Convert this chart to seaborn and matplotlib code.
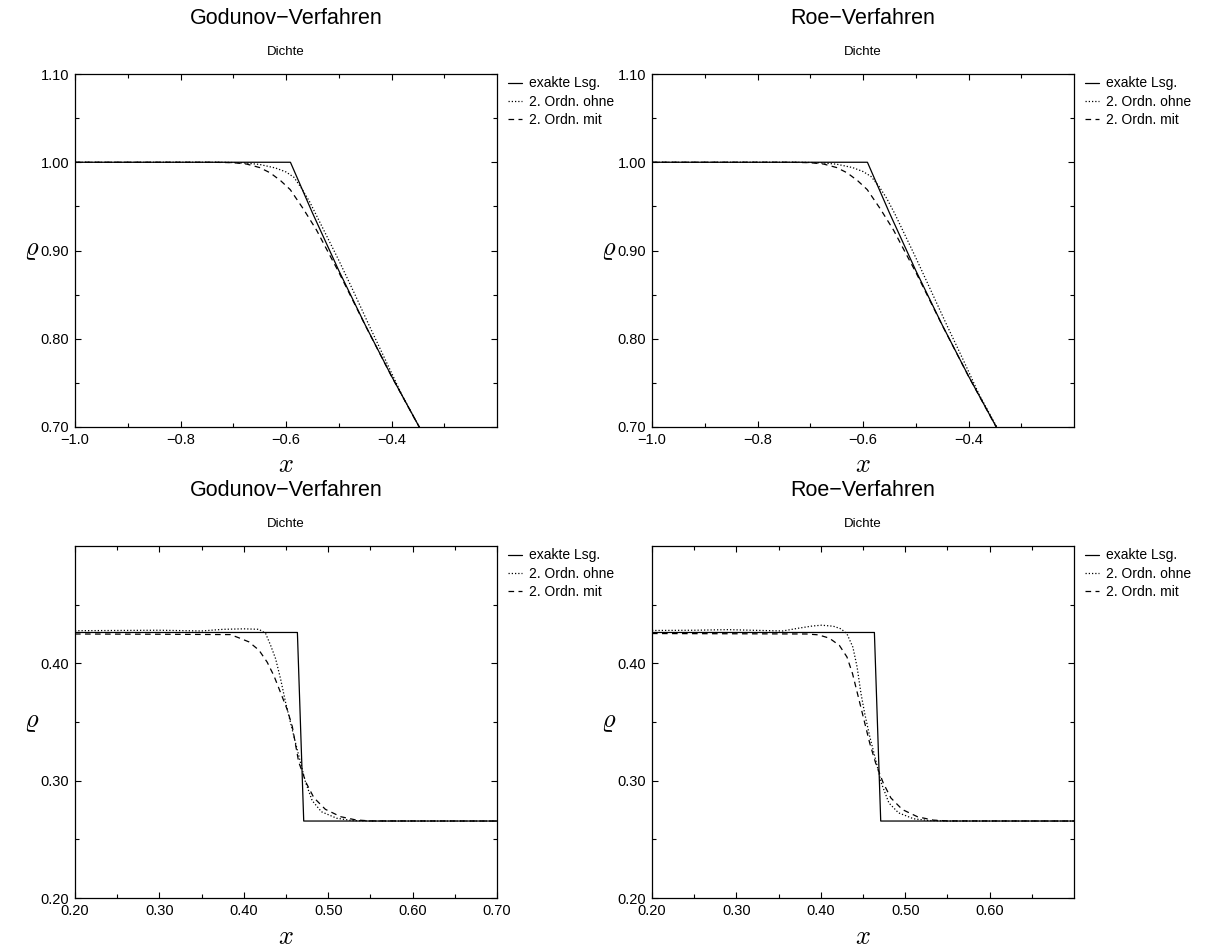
import matplotlib
matplotlib.use("Agg")
import matplotlib.pyplot as plt
from matplotlib.ticker import FixedLocator, FuncFormatter
import seaborn as sns

# ---- data: density profiles (shock tube), rarefaction region ----
top_x_exact = [-1.0, -0.5916, -0.55, -0.50, -0.45, -0.40, -0.35, -0.30]
top_rho_exact = [1.0, 1.0, 0.9428, 0.8774, 0.8158, 0.7577, 0.7029, 0.6514]

top_x_ohne = [-1.0, -0.72, -0.68, -0.65, -0.62, -0.60, -0.585, -0.57, -0.555,
              -0.54, -0.52, -0.50, -0.47, -0.44, -0.41, -0.38, -0.35, -0.30]
god_top_rho_ohne = [1.0, 1.0, 0.9993, 0.9975, 0.9935, 0.989, 0.983, 0.970, 0.955,
                    0.937, 0.913, 0.889, 0.851, 0.812, 0.774, 0.736, 0.703, 0.652]
roe_top_rho_ohne = [1.0, 1.0, 0.9994, 0.9978, 0.9940, 0.9895, 0.984, 0.973, 0.959,
                    0.942, 0.917, 0.892, 0.853, 0.814, 0.776, 0.737, 0.704, 0.652]

top_x_mit = [-1.0, -0.74, -0.70, -0.675, -0.65, -0.63, -0.61, -0.592, -0.567,
             -0.542, -0.52, -0.50, -0.45, -0.40, -0.35, -0.30]
top_rho_mit = [1.0, 1.0, 0.9995, 0.998, 0.994, 0.988, 0.979, 0.969, 0.947,
               0.923, 0.898, 0.8755, 0.8155, 0.7575, 0.7027, 0.651]

# ---- data: contact discontinuity region ----
bot_x_exact = [0.20, 0.4635, 0.4710, 0.70]
bot_rho_exact = [0.4263, 0.4263, 0.2656, 0.2656]

god_bot_x_ohne = [0.20, 0.30, 0.35, 0.376, 0.40, 0.418, 0.4258, 0.4317, 0.4377,
                  0.4436, 0.4496, 0.4555, 0.461, 0.467, 0.473, 0.481, 0.492,
                  0.510, 0.528, 0.55, 0.70]
god_bot_rho_ohne = [0.4278, 0.4282, 0.4276, 0.4290, 0.4294, 0.4290, 0.4255, 0.4155,
                    0.4039, 0.3866, 0.3664, 0.3490, 0.3330, 0.3160, 0.2990, 0.2830,
                    0.2735, 0.2680, 0.2660, 0.2656, 0.2656]

god_bot_x_mit = [0.20, 0.30, 0.384, 0.394, 0.406, 0.418, 0.4277, 0.4357, 0.4436,
                 0.4515, 0.4575, 0.465, 0.474, 0.483, 0.4966, 0.5147, 0.533, 0.55, 0.70]
god_bot_rho_mit = [0.4250, 0.4248, 0.4245, 0.4218, 0.4183, 0.4112, 0.4010, 0.3894,
                   0.3750, 0.3605, 0.3460, 0.3160, 0.2980, 0.2855, 0.2756, 0.2693,
                   0.2665, 0.2657, 0.2656]

roe_bot_x_ohne = [0.20, 0.25, 0.29, 0.33, 0.355, 0.374, 0.390, 0.401, 0.415, 0.424,
                  0.431, 0.438, 0.443, 0.4476, 0.452, 0.458, 0.465, 0.4717, 0.4807,
                  0.492, 0.510, 0.528, 0.55, 0.70]
roe_bot_rho_ohne = [0.4280, 0.4282, 0.4287, 0.4280, 0.4276, 0.4300, 0.4318, 0.4325,
                    0.4316, 0.4294, 0.4251, 0.4138, 0.3969, 0.3743, 0.3573, 0.3376,
                    0.3178, 0.2980, 0.2810, 0.2726, 0.2675, 0.2660, 0.2656, 0.2656]

roe_bot_x_mit = [0.20, 0.30, 0.383, 0.397, 0.410, 0.422, 0.431, 0.4376, 0.4444,
                 0.4512, 0.458, 0.465, 0.474, 0.483, 0.4966, 0.5147, 0.533, 0.55, 0.70]
roe_bot_rho_mit = [0.4254, 0.4252, 0.4250, 0.4243, 0.4215, 0.4153, 0.4054, 0.3912,
                   0.3715, 0.3517, 0.3319, 0.3150, 0.2980, 0.2853, 0.2754, 0.2692,
                   0.2664, 0.2657, 0.2656]

legend_labels = ["exakte Lsg.", "2. Ordn. ohne", "2. Ordn. mit"]
methods = ["Godunov\u2212Verfahren", "Roe\u2212Verfahren"]
quantity = "Dichte"

top_xticks = [-1.0, -0.8, -0.6, -0.4]
top_xminor = [-0.9, -0.7, -0.5, -0.3]
top_yticks = [0.70, 0.80, 0.90, 1.00, 1.10]
top_yminor = [0.75, 0.85, 0.95, 1.05]
bot_xticks_left = [0.20, 0.30, 0.40, 0.50, 0.60, 0.70]
bot_xticks_right = [0.20, 0.30, 0.40, 0.50, 0.60]
bot_xminor = [0.25, 0.35, 0.45, 0.55, 0.65]
bot_yticks = [0.20, 0.30, 0.40]
bot_yminor = [0.25, 0.35, 0.45]

# ---- style ----
sns.set_theme(style="ticks")
plt.rcParams["font.family"] = ["Liberation Sans", "DejaVu Sans"]
plt.rcParams["mathtext.fontset"] = "cm"
for key in ["text.color", "axes.labelcolor", "xtick.color", "ytick.color",
            "axes.edgecolor"]:
    plt.rcParams[key] = "black"

W, H = 1207, 950
fig = plt.figure(figsize=(W / 100, H / 100), dpi=100)

LW = 0.9
DOT = (0, (1, 1.6))
DASH = (0, (4.5, 3.5))


def fmt(decimals):
    return FuncFormatter(lambda v, _: f"{v:.{decimals}f}".replace("-", "\u2212"))


def px_axes(left, top, width, height):
    return fig.add_axes([left / W, 1 - (top + height) / H, width / W, height / H])


def panel(ax, curves, xlim, ylim, xt, xm, yt, ym, xdec, ydec):
    styles = ["-", DOT, DASH]
    for (xs, ys), ls, lab in zip(curves, styles, legend_labels):
        sns.lineplot(x=xs, y=ys, ax=ax, color="black", linewidth=LW,
                     linestyle=ls, label=lab, sort=False, estimator=None,
                     legend=False)
    ax.set_xlim(*xlim)
    ax.set_ylim(*ylim)
    ax.xaxis.set_major_locator(FixedLocator(xt))
    ax.xaxis.set_minor_locator(FixedLocator(xm))
    ax.yaxis.set_major_locator(FixedLocator(yt))
    ax.yaxis.set_minor_locator(FixedLocator(ym))
    ax.xaxis.set_major_formatter(fmt(xdec))
    ax.yaxis.set_major_formatter(fmt(ydec))
    ax.tick_params(which="both", direction="in", top=True, right=True,
                   width=0.8, colors="black", labelsize=10.5)
    ax.tick_params(which="major", length=4.5, pad=4)
    ax.tick_params(which="minor", length=3)
    for s in ax.spines.values():
        s.set_linewidth(0.9)
        s.set_color("black")
    ax.set_xlabel("")
    ax.set_ylabel("")
    ax.legend(loc="upper left", bbox_to_anchor=(1.026, 0.993), frameon=False,
              fontsize=10, handlelength=1.0, handletextpad=0.5,
              labelspacing=0.32, borderpad=0, borderaxespad=0.0)


lefts = [75, 652]
tops = [74, 546]
AW, AH = 422, 353

top_curves = [
    [(top_x_exact, top_rho_exact), (top_x_ohne, god_top_rho_ohne), (top_x_mit, top_rho_mit)],
    [(top_x_exact, top_rho_exact), (top_x_ohne, roe_top_rho_ohne), (top_x_mit, top_rho_mit)],
]
bot_curves = [
    [(bot_x_exact, bot_rho_exact), (god_bot_x_ohne, god_bot_rho_ohne), (god_bot_x_mit, god_bot_rho_mit)],
    [(bot_x_exact, bot_rho_exact), (roe_bot_x_ohne, roe_bot_rho_ohne), (roe_bot_x_mit, roe_bot_rho_mit)],
]

for col in range(2):
    ax = px_axes(lefts[col], tops[0], AW, AH)
    panel(ax, top_curves[col], (-1.0, -0.2), (0.70, 1.10),
          top_xticks, top_xminor, top_yticks, top_yminor, 1, 2)

    xt = bot_xticks_left if col == 0 else bot_xticks_right
    ax2 = px_axes(lefts[col], tops[1], AW, AH - 1)
    panel(ax2, bot_curves[col], (0.20, 0.70), (0.20, 0.50),
          xt, bot_xminor, bot_yticks, bot_yminor, 2, 2)

    cx = (lefts[col] + AW / 2) / W
    for t in tops:
        fig.text(cx, 1 - (t - 56) / H, methods[col], ha="center", va="center",
                 fontsize=15.5)
        fig.text(cx, 1 - (t - 22) / H, quantity, ha="center", va="center",
                 fontsize=9.5)
        fig.text(cx, 1 - (t + AH + 38) / H, r"$x$", ha="center", va="center",
                 fontsize=19)
        fig.text((lefts[col] - 43) / W, 1 - (t + AH / 2) / H, r"$\varrho$",
                 ha="center", va="center", fontsize=19)

fig.savefig("out.png", dpi=100)
